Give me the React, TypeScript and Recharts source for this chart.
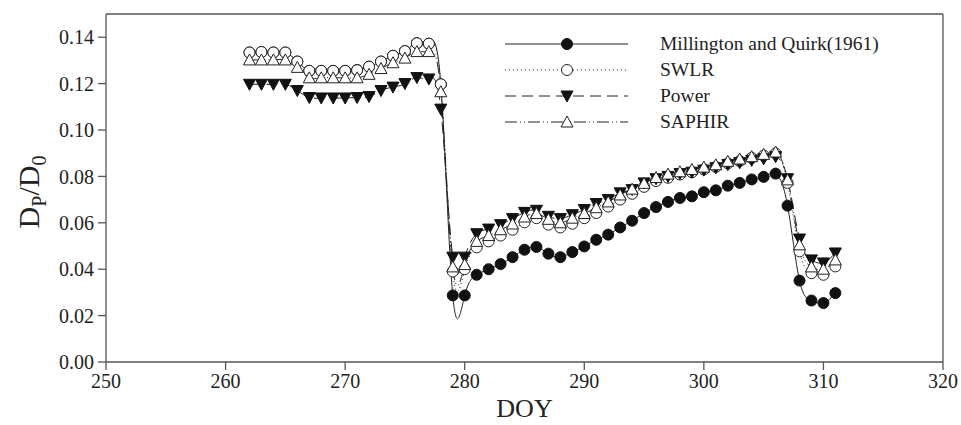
import React from "react";
import { LineChart, Line, XAxis, YAxis, ReferenceLine } from "recharts";

const days = [
  262, 263, 264, 265, 266, 267, 268, 269, 270, 271, 272, 273, 274, 275, 276, 277, 278,
  279, 280, 281, 282, 283, 284, 285, 286, 287, 288, 289, 290, 291, 292, 293, 294, 295,
  296, 297, 298, 299, 300, 301, 302, 303, 304, 305, 306, 307, 308, 309, 310, 311,
];

const millington = [
  0.1334, 0.1336, 0.1334, 0.1334, 0.1295, 0.1255, 0.1255, 0.1255, 0.1255, 0.1258, 0.1273,
  0.1295, 0.132, 0.134, 0.1374, 0.1372, 0.1197,
  0.0287, 0.0287, 0.0376, 0.04, 0.0422, 0.0452, 0.0484, 0.0496, 0.0467, 0.0452, 0.0474,
  0.0498, 0.0527, 0.0549, 0.058, 0.0609, 0.0642, 0.0668, 0.069, 0.0707, 0.0714, 0.0732,
  0.074, 0.076, 0.0772, 0.0787, 0.0798, 0.0812, 0.0674, 0.0351, 0.0265, 0.0254, 0.0297,
];

const swlr = [
  0.1334, 0.1336, 0.1334, 0.1334, 0.1295, 0.1255, 0.1255, 0.1255, 0.1255, 0.1258, 0.1273,
  0.1295, 0.132, 0.134, 0.1374, 0.1372, 0.1197,
  0.039, 0.04, 0.0494, 0.052, 0.0545, 0.057, 0.0602, 0.062, 0.0592, 0.058, 0.0596, 0.062,
  0.0642, 0.067, 0.07, 0.0725, 0.0755, 0.078, 0.0794, 0.0808, 0.0818, 0.083, 0.0841,
  0.0856, 0.0866, 0.088, 0.089, 0.0899, 0.0772, 0.0477, 0.0383, 0.0376, 0.0412,
];

const power = [
  0.1197, 0.1197, 0.1197, 0.1197, 0.117, 0.114, 0.1138, 0.1138, 0.1138, 0.114, 0.1144,
  0.117, 0.1185, 0.12, 0.1226, 0.122, 0.109,
  0.0452, 0.0452, 0.0553, 0.0573, 0.0592, 0.0618, 0.0645, 0.0654, 0.0628, 0.0618, 0.0635,
  0.0657, 0.0683, 0.07, 0.0729, 0.0743, 0.0772, 0.079, 0.08, 0.0812, 0.0818, 0.0827,
  0.0837, 0.0851, 0.0859, 0.0869, 0.0876, 0.0885, 0.079, 0.053, 0.044, 0.0427, 0.047,
];

const saphir = [
  0.1302, 0.1302, 0.1302, 0.1302, 0.127, 0.1225, 0.1225, 0.1225, 0.1225, 0.1225, 0.124,
  0.1265, 0.129, 0.131, 0.1338, 0.1338, 0.1165,
  0.041, 0.042, 0.052, 0.0545, 0.057, 0.0595, 0.0625, 0.064, 0.0615, 0.06, 0.062, 0.064,
  0.0665, 0.069, 0.072, 0.0745, 0.077, 0.0795, 0.081, 0.082, 0.083, 0.084, 0.085, 0.0865,
  0.0875, 0.0885, 0.0895, 0.0905, 0.0785, 0.0505, 0.041, 0.04, 0.044,
];

const xTicks = [250, 260, 270, 280, 290, 300, 310, 320];
const yTicks = [0, 0.02, 0.04, 0.06, 0.08, 0.1, 0.12, 0.14];

const data = days.map((d, i) => ({
  doy: d,
  mq: millington[i],
  swlr: swlr[i],
  power: power[i],
  saphir: saphir[i],
}));

const FONT = "'Liberation Serif', 'Times New Roman', serif";
const AXIS = "#555";

type Shape = "filledCircle" | "openCircle" | "downTri" | "upTri";

function Marker({ cx, cy, shape }: { cx: number; cy: number; shape: Shape }) {
  if (shape === "filledCircle")
    return <circle cx={cx} cy={cy} r={5.5} fill="#111" stroke="#111" />;
  if (shape === "openCircle")
    return <circle cx={cx} cy={cy} r={5.5} fill="#fff" stroke="#222" strokeWidth={1} />;
  if (shape === "downTri")
    return (
      <path
        d={`M${cx - 6},${cy - 5} L${cx + 6},${cy - 5} L${cx},${cy + 6} Z`}
        fill="#111"
        stroke="#111"
      />
    );
  return (
    <path
      d={`M${cx},${cy - 6} L${cx + 6},${cy + 5} L${cx - 6},${cy + 5} Z`}
      fill="#fff"
      stroke="#222"
      strokeWidth={1}
    />
  );
}

const series = [
  { key: "mq", name: "Millington and Quirk(1961)", shape: "filledCircle" as Shape, dash: "" },
  { key: "swlr", name: "SWLR", shape: "openCircle" as Shape, dash: "1 3" },
  { key: "power", name: "Power", shape: "downTri" as Shape, dash: "11 6" },
  { key: "saphir", name: "SAPHIR", shape: "upTri" as Shape, dash: "12 3 1 3 1 3" },
];

const dotFor = (shape: Shape) => (props: any) => {
  const { cx, cy, index, dataKey } = props;
  if (cx == null || cy == null) return <g key={`${dataKey}-${index}`} />;
  return (
    <g key={`${dataKey}-${index}`}>
      <Marker cx={cx} cy={cy} shape={shape} />
    </g>
  );
};

function YLabel() {
  return (
    <text
      transform="translate(39,192) rotate(-90)"
      textAnchor="middle"
      fontFamily={FONT}
      fontSize={30}
      fill="#222"
    >
      D
      <tspan fontSize={20} dy={7}>P</tspan>
      <tspan dy={-7}>/D</tspan>
      <tspan fontSize={20} dy={7}>0</tspan>
    </text>
  );
}

function LegendBox() {
  const rows = [44, 70, 96, 122];
  return (
    <svg
      width={420}
      height={140}
      style={{ position: "absolute", left: 480, top: 0, pointerEvents: "none" }}
    >
      {series.map((s, i) => (
        <g key={s.key}>
          <line
            x1={25}
            x2={148}
            y1={rows[i]}
            y2={rows[i]}
            stroke="#222"
            strokeWidth={1}
            strokeDasharray={s.dash || undefined}
          />
          <Marker cx={87} cy={rows[i]} shape={s.shape} />
          <text
            x={180}
            y={rows[i] + 6}
            fontFamily={FONT}
            fontSize={19.5}
            fill="#222"
          >
            {s.name}
          </text>
        </g>
      ))}
    </svg>
  );
}

export default function App() {
  return (
    <div
      style={{
        position: "fixed",
        left: 0,
        top: 0,
        width: 961,
        height: 425,
        background: "#fff",
      }}
    >
      <LineChart
        width={961}
        height={425}
        data={data}
        margin={{ top: 14, right: 18, bottom: 0, left: 0 }}
      >
        <XAxis
          dataKey="doy"
          type="number"
          domain={[250, 320]}
          ticks={xTicks}
          tickSize={8}
          tickMargin={4}
          height={63}
          stroke={AXIS}
          strokeWidth={1.3}
          tick={{ fontFamily: FONT, fontSize: 20, fill: "#222" }}
          label={{
            value: "DOY",
            position: "insideBottom",
            offset: 8,
            fontFamily: FONT,
            fontSize: 26,
            fill: "#222",
          }}
        />
        <YAxis
          type="number"
          domain={[0, 0.15]}
          ticks={yTicks}
          tickSize={8}
          tickMargin={4}
          width={106}
          stroke={AXIS}
          strokeWidth={1.3}
          tickFormatter={(v: number) => v.toFixed(2)}
          tick={{ fontFamily: FONT, fontSize: 20, fill: "#222" }}
          label={<YLabel />}
        />
        <ReferenceLine y={0.15} stroke={AXIS} strokeWidth={1.3} />
        <ReferenceLine x={320} stroke={AXIS} strokeWidth={1.3} />
        {series.map((s) => (
          <Line
            key={s.key}
            dataKey={s.key}
            name={s.name}
            type="natural"
            stroke="#222"
            strokeWidth={1}
            strokeDasharray={s.dash || undefined}
            dot={dotFor(s.shape)}
            activeDot={false}
            isAnimationActive={false}
          />
        ))}
      </LineChart>
      <LegendBox />
    </div>
  );
}
